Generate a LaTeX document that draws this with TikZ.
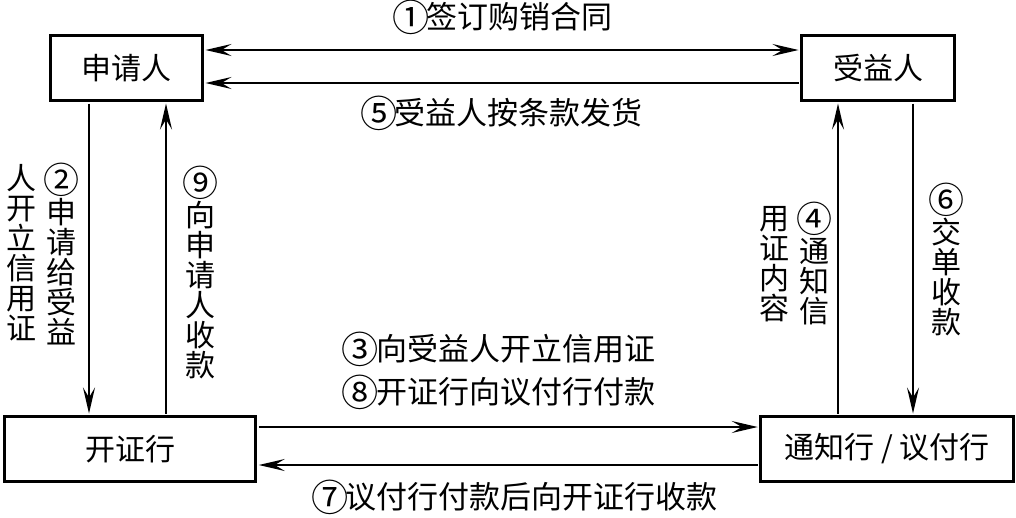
\documentclass[tikz,border=0pt]{standalone}
\usepackage{fontspec}
\setmainfont{Noto Sans CJK SC}
\usetikzlibrary{arrows.meta}
\newcommand\cnum[1]{\makebox[1em]{\raisebox{-0.08em}{\scalebox{1.2}{#1}}}}
\newcommand\vcnum[1]{\makebox[1em]{\raisebox{0em}{\scalebox{1.2}{#1}}}}
\begin{document}
\begin{tikzpicture}[x=1pt,y=-1pt,
  box/.style={draw, line width=3pt, inner sep=0pt, minimum height=65pt,
    font=\fontsize{30}{30}\selectfont},
  conn/.style={line width=1.6pt, shorten >=1.5pt, shorten <=1.5pt,
    -{Stealth[length=26pt,width=12pt,inset=10pt]}},
  dconn/.style={conn, {Stealth[length=26pt,width=12pt,inset=10pt]}-{Stealth[length=26pt,width=12pt,inset=10pt]}},
  lbl/.style={font=\fontsize{31}{31}\selectfont, inner sep=0pt},
  vlbl/.style={font=\fontsize{30}{30}\selectfont, align=center, inner sep=0pt}]
\useasboundingbox (0,0) rectangle (1016,517);

% boxes
\node[box, minimum width=152pt] (sq) at (126.5,68) {申请人};
\node[box, minimum width=153pt] (sy) at (878,68) {受益人};
\node[box, minimum width=251.5pt] (kz) at (130,449) {开证行};
\node[box, minimum width=252.5pt] (tz) at (887,449) {通知行 / 议付行};

% helper points
\coordinate (a1) at ([yshift=18pt]sq.east);
\coordinate (a5) at ([yshift=-15pt]sq.east);
\coordinate (a2) at ([xshift=-37.5pt]sq.south);
\coordinate (a9) at ([xshift=39.5pt]sq.south);
\coordinate (b4) at ([xshift=-40pt]sy.south);
\coordinate (b6) at ([xshift=35pt]sy.south);
\coordinate (c3) at ([yshift=22pt]kz.east);
\coordinate (c7) at ([yshift=-16pt]kz.east);

% connectors
\draw[dconn] (a1) -- (a1 -| sy.west);
\draw[conn] (a5 -| sy.west) -- (a5);
\draw[conn] (a2) -- (a2 |- kz.north);
\draw[conn] (a9 |- kz.north) -- (a9);
\draw[conn] (b4 |- tz.north) -- (b4);
\draw[conn] (b6) -- (b6 |- tz.north);
\draw[conn] (c3) -- (c3 -| tz.west);
\draw[conn] (c7 -| tz.west) -- (c7);

% horizontal labels
\node[lbl] (l1) at (504,17) {\cnum{①}签订购销合同};
\node[lbl] (l5) at (503,113) {\cnum{⑤}受益人按条款发货};
\node[lbl] (l3) at (500,349) {\cnum{③}向受益人开立信用证};
\node[lbl] (l8) at (500,392) {\cnum{⑧}开证行向议付行付款};
\node[lbl] (l7) at (516,497) {\cnum{⑦}议付行付款后向开证行收款};

% vertical labels
\node[vlbl] (v2a) at (61,254) {\vcnum{②}\\申\\请\\给\\受\\益};
\node[vlbl] (v2b) at (21,253) {人\\开\\立\\信\\用\\证};
\node[vlbl] (v9) at (200,272) {\vcnum{⑨}\\向\\申\\请\\人\\收\\款};
\node[vlbl] (v4a) at (814,264) {\vcnum{④}\\通\\知\\信};
\node[vlbl] (v4b) at (774,264) {用\\证\\内\\容};
\node[vlbl] (v6) at (946,259) {\vcnum{⑥}\\交\\单\\收\\款};
\end{tikzpicture}
\end{document}
